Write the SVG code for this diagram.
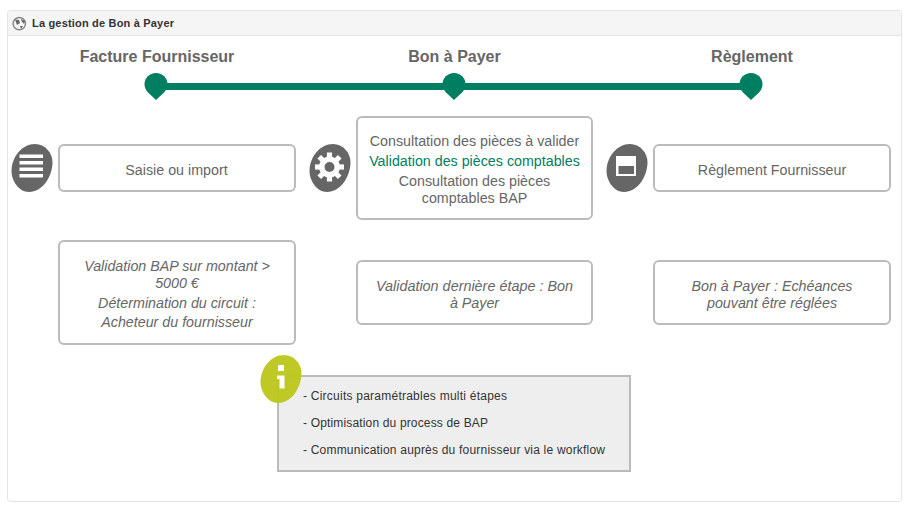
<svg xmlns="http://www.w3.org/2000/svg" width="909" height="509" viewBox="0 0 909 509">
<style>
text{font-family:"Liberation Sans",Arial,sans-serif}
.box{fill:#fff;stroke:#bbb;stroke-width:2}
.t{font-size:14.280px;fill:#666;text-anchor:middle}
.i{font-style:italic}
.h{font-size:16px;font-weight:bold;fill:#666;text-anchor:middle}
.g{fill:#007e61}
.blob{fill:#666}
.w{fill:#fff}
.n{font-size:12px;fill:#333}
</style>
<defs>
<path id="blob" d="M3-24C13-24 20.500-15 20.500-6C20.500 9 10 24-3 24C-13 24-20.500 13-20.500 3C-20.500-11-10-24 3-24Z"/>
<path id="pin" d="M0-12C6.500-12 11.500-7 11.500-1C11.500 3 10 5 8 7.500L0 15L-8 7.500C-10 5-11.500 3-11.500-1C-11.500-7-6.500-12 0-12Z"/>
</defs>
<g id="panel">
<rect x="7.500" y="10.500" width="894" height="491" rx="3" fill="#fff" stroke="#e4e4e4"/>
<path d="M8 35V13Q8 11 11 11H898Q901 11 901 13V35Z" fill="#f5f5f5"/>
<path d="M8 35.500H901" stroke="#e4e4e4"/>
<circle cx="19.300" cy="23.600" r="6.200" fill="#f5f5f5" stroke="#888" stroke-width="1.500"/>
<path d="M15 19.500L19 20L20 23L17 25ZM21 19L25 21L24 24L21.500 21ZM20 26L23 26L21 29Z" fill="#666"/>
<text x="32" y="27" font-size="11px" font-weight="bold" fill="#333" textLength="142">La gestion de Bon à Payer</text>
</g>
<g id="connectors">
<path class="g" d="M156 83H751V90H156Z"/>
</g>
<g id="step-facture"><text class="h" x="157" y="62">Facture Fournisseur</text><use href="#pin" x="156" y="85" class="g"/></g>
<g id="step-bap"><text class="h" x="454.500" y="62">Bon à Payer</text><use href="#pin" x="454" y="85" class="g"/></g>
<g id="step-reglement"><text class="h" x="752" y="62">Règlement</text><use href="#pin" x="751" y="85" class="g"/></g>
<g id="icon-list"><use href="#blob" x="32" y="168" class="blob"/>
<path class="w" d="M19.500 154.500H43V158H19.500ZM19.500 161H43V164.500H19.500ZM19.500 167.500H43V171H19.500ZM19.500 174H43V177.500H19.500Z"/></g>
<g id="icon-gear"><use href="#blob" x="330" y="168" class="blob"/>
<g transform="translate(329.500 167)">
<circle r="7.500" fill="none" stroke="#fff" stroke-width="6"/>
<g class="w"><rect x="-2.600" y="-14.500" width="5.200" height="29"/><rect x="-2.600" y="-14.500" width="5.200" height="29" transform="rotate(45)"/><rect x="-2.600" y="-14.500" width="5.200" height="29" transform="rotate(90)"/><rect x="-2.600" y="-14.500" width="5.200" height="29" transform="rotate(135)"/></g>
<circle r="5" fill="#666"/></g></g>
<g id="icon-window"><use href="#blob" x="627" y="168" class="blob"/>
<rect x="616" y="156" width="20" height="20" fill="#fff"/><rect x="618.500" y="166" width="15.500" height="8" fill="#666"/></g>
<g id="node-saisie"><rect class="box" x="59" y="145" width="236" height="46" rx="5"/><text class="t" x="176.500" y="175">Saisie ou import</text></g>
<g id="node-consultation"><rect class="box" x="357" y="117" width="235" height="102" rx="5"/>
<text class="t" x="474.500" y="146">Consultation des pièces à valider</text>
<text class="t" x="474.500" y="166" style="fill:#007e61">Validation des pièces comptables</text>
<text class="t" x="474.500" y="186">Consultation des pièces</text>
<text class="t" x="474.500" y="203">comptables BAP</text></g>
<g id="node-reglement"><rect class="box" x="654" y="145" width="236" height="46" rx="5"/><text class="t" x="772" y="175">Règlement Fournisseur</text></g>
<g id="node-validation-bap"><rect class="box" x="59" y="241" width="236" height="103" rx="5"/>
<text class="t i" x="177" y="271">Validation BAP sur montant &gt;</text>
<text class="t i" x="177" y="288">5000 €</text>
<text class="t i" x="177" y="308">Détermination du circuit :</text>
<text class="t i" x="177" y="327">Acheteur du fournisseur</text></g>
<g id="node-validation-derniere"><rect class="box" x="357" y="261" width="235" height="63" rx="5"/>
<text class="t i" x="474.500" y="291" style="font-size:14.400px">Validation dernière étape : Bon</text>
<text class="t i" x="474.500" y="308">à Payer</text></g>
<g id="node-bon"><rect class="box" x="654" y="261" width="236" height="63" rx="5"/>
<text class="t i" x="772" y="291">Bon à Payer : Echéances</text>
<text class="t i" x="772" y="308">pouvant être réglées</text></g>
<g id="info">
<rect x="278" y="376" width="352" height="95" fill="#eee" stroke="#bbb" stroke-width="2"/>
<text class="n" x="303" y="400" textLength="204">- Circuits paramétrables multi étapes</text>
<text class="n" x="303" y="427" textLength="185">- Optimisation du process de BAP</text>
<text class="n" x="303" y="454" textLength="302">- Communication auprès du fournisseur via le workflow</text>
<use href="#blob" x="281" y="379" fill="#bcc71c" opacity="0.96"/>
<path class="w" d="M278 365H284V371H278ZM277 375.500H284.500V388.500H279.500V379H277Z"/>
</g>
</svg>
